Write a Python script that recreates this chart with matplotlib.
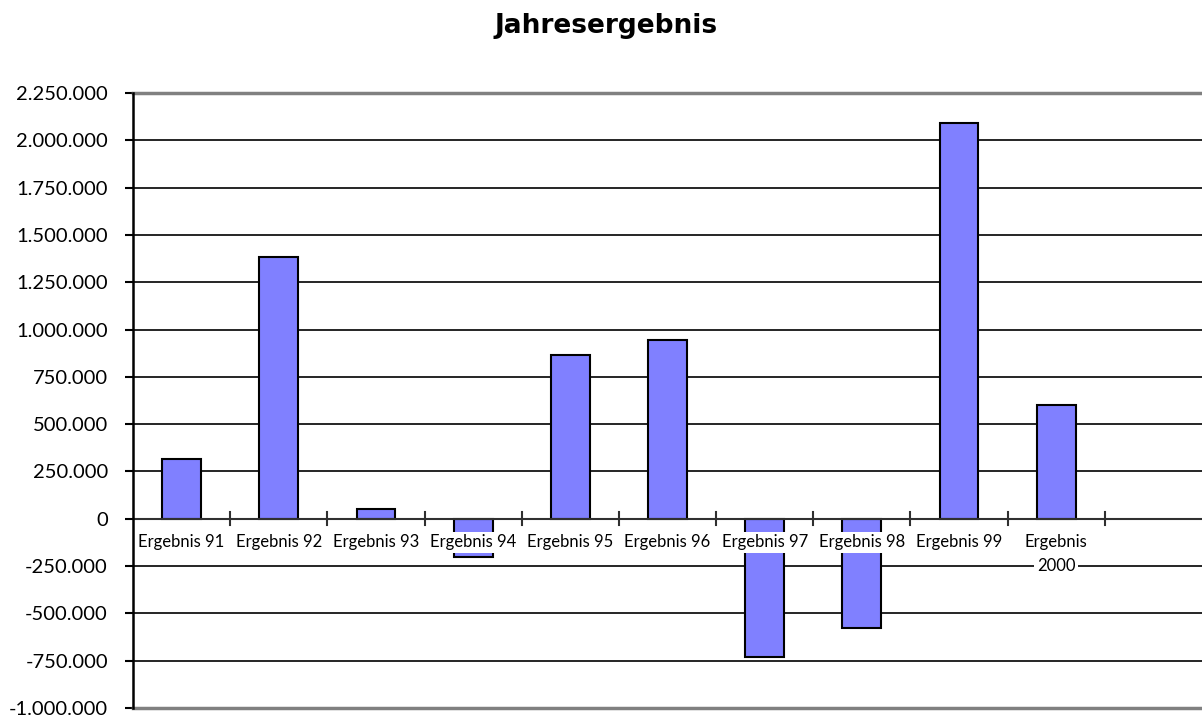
import matplotlib

matplotlib.use("Agg")
import matplotlib.pyplot as plt
from matplotlib.ticker import FuncFormatter

# Jahresergebnisse
kategorien = ["Ergebnis 91", "Ergebnis 92", "Ergebnis 93", "Ergebnis 94",
              "Ergebnis 95", "Ergebnis 96", "Ergebnis 97", "Ergebnis 98",
              "Ergebnis 99", "Ergebnis\n2000"]
werte = [315000, 1385000, 53000, -203000, 865000, 947000,
         -733000, -575000, 2090000, 600000]
y_ticks = list(range(-1000000, 2250001, 250000))

BAR_COLOR = "#8080FF"
FONT = ["Lato", "DejaVu Sans"]

plt.rcParams["font.family"] = FONT

fig = plt.figure(figsize=(12.02, 7.2), dpi=100)
ax = fig.add_axes([133 / 1202, 1 - 708 / 720, 1 - 133 / 1202, (708 - 93) / 720])

n_slots = len(kategorien) + 1  # letzte Kategorie leer
x = list(range(len(kategorien)))
ax.bar(x, werte, width=0.4, color=BAR_COLOR, edgecolor="black",
       linewidth=1.5, zorder=3)

ax.set_xlim(-0.5, n_slots - 0.5)
ax.set_ylim(y_ticks[0], y_ticks[-1])

# Gitterlinien
for v in y_ticks[1:-1]:
    if v != 0:
        ax.axhline(v, color="black", linewidth=1.2, zorder=1)
ax.axhline(y_ticks[0], color="#808080", linewidth=2.5, zorder=2, clip_on=False)
ax.axhline(y_ticks[-1], color="#808080", linewidth=2.5, zorder=2, clip_on=False)

# Rubrikenachse bei 0
ax.axhline(0, color="#303030", linewidth=1.5, zorder=4)
for b in range(1, n_slots):
    ax.plot([b - 0.5, b - 0.5], [-35000, 35000], color="#303030",
            linewidth=1.5, zorder=4, clip_on=False)

# Rubrikenbeschriftung, jede Zeile mit eigenem weissen Hintergrund
for xi, lab in zip(x, kategorien):
    for k, zeile in enumerate(lab.split("\n")):
        ax.annotate(zeile, (xi, 0), xytext=(0, -11 - 17.5 * k),
                    textcoords="offset points", ha="center", va="top",
                    fontsize=12,
                    bbox=dict(boxstyle="square,pad=0.15", facecolor="white",
                              edgecolor="none"),
                    zorder=5)

for s in ["top", "right", "bottom"]:
    ax.spines[s].set_visible(False)
ax.spines["left"].set_linewidth(1.8)
ax.spines["left"].set_zorder(6)

ax.set_xticks([])
ax.set_yticks(y_ticks)
ax.yaxis.set_major_formatter(
    FuncFormatter(lambda v, p: f"{v:,.0f}".replace(",", ".")))
ax.tick_params(axis="y", length=6, width=1.5, pad=12, labelsize=14.5)

fig.text(606 / 1202, 1 - 26 / 720, "Jahresergebnis", ha="center",
         va="center", fontsize=19, fontweight="bold",
         family=["DejaVu Sans"])

fig.savefig("out.png", dpi=100)
